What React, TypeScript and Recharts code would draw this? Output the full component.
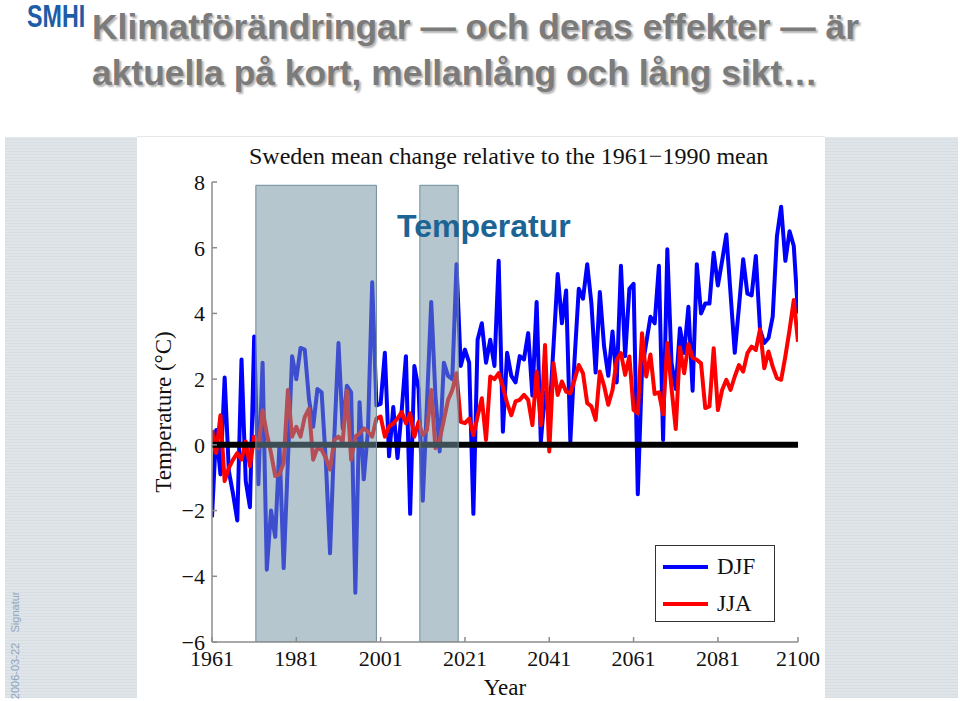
import React from "react";
import { LineChart, Line, XAxis, YAxis, ReferenceArea, ReferenceLine, Legend } from "recharts";

const SANS = '"Liberation Sans", Arial, sans-serif';
const SERIF = '"Liberation Serif", "Times New Roman", serif';

// years 1961..2100
const years = Array.from({ length: 140 }, (_, i) => 1961 + i);

// winter (DJF) change, degC
const djf = [
  -2.2, 0.45, -0.9, 2.05, -0.8, -1.5, -2.3, 2.6, -1.1, -1.9,
  3.3, -1.2, 2.5, -3.8, -2.0, -2.8, 0.0, -3.75, -0.5, 2.7,
  2.0, 2.95, 2.9, 1.4, 0.55, 1.7, 1.6, -0.5, -3.3, 0.2,
  3.1, 0.5, 1.8, 1.6, -4.5, 1.3, -1.05, 0.45, 4.95, 1.2,
  1.25, 2.8, -0.35, 1.15, -0.4, 1.05, 2.7, -2.1, 2.4, 1.7,
  -1.7, 1.3, 4.35, 1.5, -0.2, 2.5, 2.1, 2.0, 5.5, 2.4,
  2.9, 2.5, -2.1, 3.2, 3.7, 2.5, 3.2, 2.4, 5.6, 0.4,
  2.8, 2.1, 1.9, 2.7, 2.6, 3.4, 1.5, 4.35, 0.1, 1.6,
  0.8, 3.0, 5.2, 3.7, 4.7, 0.1, 2.6, 4.75, 4.45, 5.5,
  4.3, 2.2, 4.65, 3.0, 2.1, 3.45, 1.9, 5.45, 2.7, 4.75,
  4.9, -1.5, 2.3, 3.1, 3.9, 3.7, 5.45, 0.15, 5.95, 2.5,
  1.7, 3.55, 2.8, 4.2, 1.65, 5.5, 4.0, 4.3, 4.3, 5.85,
  4.85, 5.6, 6.4, 4.6, 2.8, 4.2, 5.65, 4.6, 4.55, 5.75,
  3.5, 3.1, 3.25, 3.9, 6.35, 7.25, 5.6, 6.5, 6.05, 4.0,
];

// summer (JJA) change, degC
const jja = [
  0.45, -0.25, 0.9, -1.1, -0.7, -0.45, -0.25, -0.45, 0.1, -0.65,
  0.25, -0.1, 1.05, 0.35, -0.25, -0.95, -0.9, -0.55, 1.67, 0.25,
  0.55, 0.25, 0.85, 1.1, -0.45, -0.1, -0.15, -0.4, -0.75, 0.15,
  0.25, 0.1, 1.65, -0.45, 0.25, 0.35, 0.5, 0.4, 0.25, 0.8,
  0.86, 0.25, 0.56, 0.65, 0.8, 1.0, 0.66, 0.96, 0.25, 0.7,
  0.3, 0.45, 1.67, -0.1, 0.15, 0.76, 1.37, 1.67, 2.18, 0.7,
  0.66, 0.8, 0.3, 0.86, 1.42, 0.15, 2.08, 2.0, 2.18, 1.77,
  1.27, 0.9, 1.32, 1.37, 1.52, 1.37, 0.6, 2.23, 0.6, 3.04,
  -0.2, 2.48, 1.52, 1.93, 1.62, 1.57, 1.98, 2.43, 2.18, 1.27,
  1.17, 0.76, 2.23, 1.8, 1.22, 1.67, 2.59, 2.79, 2.13, 2.69,
  1.06, 0.96, 3.4, 2.08, 2.75, 1.55, 1.6, 0.93, 3.1, 1.72,
  0.48, 2.97, 2.18, 3.07, 2.65, 2.59, 2.48, 1.12, 1.17, 2.94,
  1.06, 1.67, 1.98, 1.67, 2.08, 2.43, 2.23, 2.79, 2.99, 2.89,
  3.52, 2.33, 2.84, 2.38, 2.03, 1.98, 2.69, 3.5, 4.41, 3.14,
];

const yearTicks = [1961, 1981, 2001, 2021, 2041, 2061, 2081, 2100];
const tempTicks = [-6, -4, -2, 0, 2, 4, 6, 8];

// periods shaded on the slide
const periods = [
  { from: 1971.4, to: 2000 },
  { from: 2010.3, to: 2019.4 },
];

const data = years.map((year, i) => ({ year, DJF: djf[i], JJA: jja[i] }));

const fmtTemp = (v: number) => (v < 0 ? "\u2212" + Math.abs(v) : String(v));

const renderLegend = (props: any) => {
  const items = props.payload || [];
  return (
    <div
      style={{
        width: 120,
        height: 77,
        border: "1.5px solid #333",
        boxSizing: "border-box",
        background: "#fff",
        position: "relative",
      }}
    >
      {items.map((entry: any, i: number) => (
        <div key={entry.value} style={{ position: "absolute", left: 7, top: 8 + i * 37, height: 26, display: "flex", alignItems: "center" }}>
          <span style={{ display: "inline-block", width: 45, height: 4, background: entry.color, marginRight: 9 }} />
          <span style={{ fontFamily: SERIF, fontSize: 23, lineHeight: "26px", color: "#111" }}>{entry.value}</span>
        </div>
      ))}
    </div>
  );
};

const stripes = "repeating-linear-gradient(to bottom, #dfe5e9 0px, #dfe5e9 2px, #d7dee3 2px, #d7dee3 3px)";

const sideText: React.CSSProperties = {
  position: "absolute", left: -40, top: -7, width: 80, textAlign: "center", transform: "rotate(-90deg)",
  fontFamily: SANS, fontSize: 11, lineHeight: "14px", color: "#8ea5bd", whiteSpace: "nowrap",
};

export default function App() {
  return (
    <div style={{ position: "absolute", left: 0, top: 0, width: 960, height: 701, background: "#fff", overflow: "hidden" }}>
      {/* logo and slide title */}
      <div
        style={{
          position: "absolute", left: 27, top: 1, fontFamily: SANS, fontWeight: 700, fontSize: 31,
          lineHeight: "31px", color: "#1d5ca8", transform: "scaleX(0.75)", transformOrigin: "left top",
          whiteSpace: "nowrap",
        }}
      >
        SMHI
      </div>
      <div
        style={{
          position: "absolute", left: 92, top: 10, fontFamily: SANS, fontWeight: 700, fontSize: 35.4,
          lineHeight: "35px", color: "#7b7b7b", textShadow: "2px 2px 2px rgba(0,0,0,0.3)", whiteSpace: "nowrap",
        }}
      >
        <div>Klimatförändringar — och deras effekter — är</div>
        <div style={{ marginTop: 11 }}>aktuella på kort, mellanlång och lång sikt…</div>
      </div>

      {/* side panels */}
      <div style={{ position: "absolute", left: 5, top: 137, width: 132, height: 561, background: stripes }} />
      <div style={{ position: "absolute", left: 825, top: 137, width: 133, height: 561, background: stripes }} />
      <div style={{ position: "absolute", left: 137, top: 136, width: 688, height: 1, background: "#e4e8eb" }} />
      <div style={{ position: "absolute", left: 15, top: 612, width: 0, height: 0 }}>
        <div style={sideText}>Signatur</div>
      </div>
      <div style={{ position: "absolute", left: 15, top: 671, width: 0, height: 0 }}>
        <div style={sideText}>2006-03-22</div>
      </div>

      {/* chart */}
      <div style={{ position: "absolute", left: 137, top: 137, width: 688, height: 564 }}>
        <LineChart width={688} height={564} data={data} margin={{ top: 45, right: 27, bottom: 0, left: 0 }}>
          <XAxis
            xAxisId="b"
            dataKey="year"
            type="number"
            domain={[1961, 2100]}
            ticks={yearTicks}
            interval={0}
            allowDataOverflow
            height={59}
            stroke="#8c8c8c"
            strokeWidth={1.5}
            tickSize={-5}
            tickMargin={13}
            tick={{ fill: "#111", fontSize: 22, fontFamily: SERIF }}
            label={{ value: "Year", position: "insideBottom", offset: 6, fill: "#111", fontSize: 23, fontFamily: SERIF }}
          />
          <XAxis
            xAxisId="t"
            orientation="top"
            dataKey="year"
            type="number"
            domain={[1961, 2100]}
            ticks={yearTicks}
            allowDataOverflow
            mirror
            height={0}
            tick={false}
            tickSize={5}
            stroke="#8c8c8c"
            strokeWidth={1.5}
          />
          <YAxis
            yAxisId="l"
            type="number"
            domain={[-6, 8]}
            ticks={tempTicks}
            interval={0}
            allowDataOverflow
            width={75}
            stroke="#8c8c8c"
            strokeWidth={1.5}
            tickSize={-5}
            tickMargin={12}
            tickFormatter={fmtTemp}
            tick={{ fill: "#111", fontSize: 22, fontFamily: SERIF }}
          />
          <YAxis
            yAxisId="r"
            orientation="right"
            type="number"
            domain={[-6, 8]}
            ticks={tempTicks}
            allowDataOverflow
            mirror
            width={0}
            tick={false}
            tickSize={5}
            stroke="#8c8c8c"
            strokeWidth={1.5}
          />
          <Line
            xAxisId="b"
            yAxisId="l"
            dataKey="DJF"
            name="DJF"
            stroke="#0000ff"
            strokeWidth={4}
            strokeLinejoin="round"
            dot={false}
            isAnimationActive={false}
          />
          <Line
            xAxisId="b"
            yAxisId="l"
            dataKey="JJA"
            name="JJA"
            stroke="#ff0000"
            strokeWidth={4}
            strokeLinejoin="round"
            dot={false}
            isAnimationActive={false}
          />
          <ReferenceLine xAxisId="b" yAxisId="l" y={0} stroke="#000" strokeWidth={6} zIndex={450} />
          {periods.map((p) => (
            <ReferenceArea
              key={p.from}
              xAxisId="b"
              yAxisId="l"
              x1={p.from}
              x2={p.to}
              y1={-6}
              y2={7.9}
              fill="#7393a2"
              fillOpacity={0.53}
              stroke="#6f8c9c"
              strokeWidth={1}
              ifOverflow="hidden"
              zIndex={460}
            />
          ))}
          <Legend
            layout="horizontal"
            verticalAlign="middle"
            align="center"
            content={renderLegend}
            wrapperStyle={{ left: 518, top: 408, width: 120, height: 77 }}
          />
        </LineChart>
      </div>

      {/* chart title, y label and overlay text */}
      <div style={{ position: "absolute", left: 249, top: 144, fontFamily: SERIF, fontSize: 24, lineHeight: "24px", color: "#111", whiteSpace: "nowrap" }}>
        Sweden mean change relative to the 1961−1990 mean
      </div>
      <div
        style={{
          position: "absolute", left: 64, top: 399, width: 200, height: 26, lineHeight: "26px", textAlign: "center",
          transform: "rotate(-90deg)", fontFamily: SERIF, fontSize: 23, color: "#111", whiteSpace: "nowrap",
        }}
      >
        Temperature (°C)
      </div>
      <div style={{ position: "absolute", left: 397, top: 210, fontFamily: SANS, fontWeight: 700, fontSize: 32, lineHeight: "32px", color: "#1b6494", whiteSpace: "nowrap" }}>
        Temperatur
      </div>
    </div>
  );
}
